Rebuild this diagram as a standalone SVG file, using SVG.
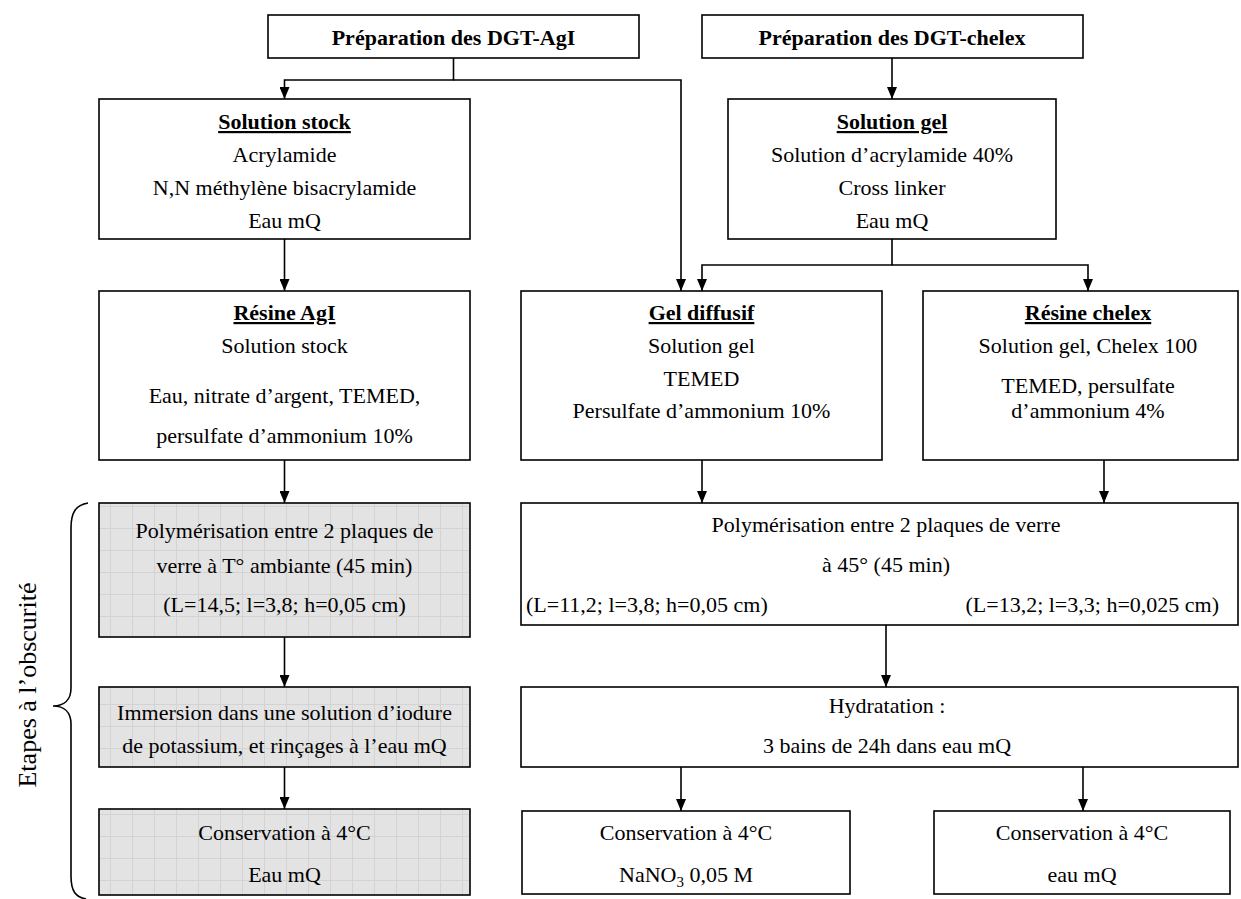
<svg xmlns="http://www.w3.org/2000/svg" width="1241" height="899" viewBox="0 0 1241 899">
<style>
.box{fill:#fff;stroke:#000;stroke-width:1.6}
.gray{fill:url(#grid);stroke:#000;stroke-width:1.6}
text{font-family:"Liberation Serif","Times New Roman",serif;font-size:22px;fill:#000;text-anchor:middle}
.b{font-weight:bold}
.u{font-weight:bold;text-decoration:underline}
.con{fill:none;stroke:#000;stroke-width:1.6}
</style>
<defs>
<pattern id="grid" width="22" height="22" patternUnits="userSpaceOnUse">
<rect width="22" height="22" fill="#e3e3e3"/>
<path d="M0,0.5 H22 M0.5,0 V22" stroke="#d3d3d3" stroke-width="1" fill="none"/>
</pattern>
<marker id="ah" viewBox="0 0 12 10" refX="12" refY="5" markerWidth="12" markerHeight="10" markerUnits="userSpaceOnUse" orient="auto">
<path d="M0,0 L12,5 L0,10 z" fill="#000"/>
</marker>
</defs>
<rect width="1241" height="899" fill="#fff"/>

<g id="connectors">
<path class="con" d="M453.5,58 V80 H284.5 V99" marker-end="url(#ah)"/>
<path class="con" d="M453.5,80 H681 V291" marker-end="url(#ah)"/>
<path class="con" d="M892,58 V99" marker-end="url(#ah)"/>
<path class="con" d="M892,239 V265 H702 V291" marker-end="url(#ah)"/>
<path class="con" d="M892,265 H1088 V291" marker-end="url(#ah)"/>
<path class="con" d="M284.5,239 V291" marker-end="url(#ah)"/>
<path class="con" d="M284.5,460 V503" marker-end="url(#ah)"/>
<path class="con" d="M702,460 V503" marker-end="url(#ah)"/>
<path class="con" d="M1104,460 V503" marker-end="url(#ah)"/>
<path class="con" d="M284.5,637 V687" marker-end="url(#ah)"/>
<path class="con" d="M886,625 V687" marker-end="url(#ah)"/>
<path class="con" d="M284.5,767 V809" marker-end="url(#ah)"/>
<path class="con" d="M681,767 V811" marker-end="url(#ah)"/>
<path class="con" d="M1083,767 V811" marker-end="url(#ah)"/>
</g>

<g id="prep-agi">
<rect class="box" x="268" y="15" width="371" height="43"/>
<text class="b" x="453.5" y="45">Préparation des DGT-AgI</text>
</g>
<g id="prep-chelex">
<rect class="box" x="702" y="15" width="381" height="43"/>
<text class="b" x="892" y="45">Préparation des DGT-chelex</text>
</g>

<g id="solution-stock">
<rect class="box" x="99" y="99" width="371" height="140"/>
<text class="u" x="284.5" y="129">Solution stock</text>
<text x="284.5" y="162">Acrylamide</text>
<text x="284.5" y="195">N,N méthylène bisacrylamide</text>
<text x="284.5" y="228">Eau mQ</text>
</g>
<g id="solution-gel">
<rect class="box" x="728" y="99" width="328" height="140"/>
<text class="u" x="892" y="129">Solution gel</text>
<text x="892" y="162">Solution d’acrylamide 40%</text>
<text x="892" y="195">Cross linker</text>
<text x="892" y="228">Eau mQ</text>
</g>

<g id="resine-agi">
<rect class="box" x="99" y="291" width="371" height="169"/>
<text class="u" x="284.5" y="320">Résine AgI</text>
<text x="284.5" y="353">Solution stock</text>
<text x="284.5" y="403">Eau, nitrate d’argent, TEMED,</text>
<text x="284.5" y="443">persulfate d’ammonium 10%</text>
</g>
<g id="gel-diffusif">
<rect class="box" x="521" y="291" width="361" height="169"/>
<text class="u" x="701.5" y="320">Gel diffusif</text>
<text x="701.5" y="353">Solution gel</text>
<text x="701.5" y="386">TEMED</text>
<text x="701.5" y="418">Persulfate d’ammonium 10%</text>
</g>
<g id="resine-chelex">
<rect class="box" x="923" y="291" width="315" height="169"/>
<text class="u" x="1088" y="320">Résine chelex</text>
<text x="1088" y="353">Solution gel, Chelex 100</text>
<text x="1088" y="393">TEMED, persulfate</text>
<text x="1088" y="418">d’ammonium 4%</text>
</g>

<g id="poly-agi">
<rect class="gray" x="99" y="503" width="371" height="134"/>
<text x="284.5" y="538">Polymérisation entre 2 plaques de</text>
<text x="284.5" y="573">verre à T° ambiante (45 min)</text>
<text x="284.5" y="612">(L=14,5; l=3,8; h=0,05 cm)</text>
</g>
<g id="poly-chelex">
<rect class="box" x="521" y="503" width="717" height="122"/>
<text x="886" y="532">Polymérisation entre 2 plaques de verre</text>
<text x="886" y="572">à 45° (45 min)</text>
<text x="526" y="612" style="text-anchor:start">(L=11,2; l=3,8; h=0,05 cm)</text>
<text x="1219" y="612" style="text-anchor:end">(L=13,2; l=3,3; h=0,025 cm)</text>
</g>

<g id="immersion">
<rect class="gray" x="99" y="687" width="371" height="80"/>
<text x="284.5" y="720">Immersion dans une solution d’iodure</text>
<text x="284.5" y="753">de potassium, et rinçages à l’eau mQ</text>
</g>
<g id="hydratation">
<rect class="box" x="521" y="687" width="717" height="80"/>
<text x="887" y="713">Hydratation :</text>
<text x="887" y="753">3 bains de 24h dans eau mQ</text>
</g>

<g id="conservation-agi">
<rect class="gray" x="99" y="809" width="371" height="86"/>
<text x="284.5" y="840">Conservation à 4°C</text>
<text x="284.5" y="882">Eau mQ</text>
</g>
<g id="conservation-diffusif">
<rect class="box" x="522" y="811" width="328" height="83"/>
<text x="686" y="840">Conservation à 4°C</text>
<text x="686" y="882">NaNO<tspan font-size="15" dy="5">3</tspan><tspan dy="-5"> 0,05 M</tspan></text>
</g>
<g id="conservation-chelex">
<rect class="box" x="934" y="811" width="296" height="83"/>
<text x="1082" y="840">Conservation à 4°C</text>
<text x="1082" y="882">eau mQ</text>
</g>

<g id="brace">
<path class="con" d="M88,503 C76,505 71,512 71,528 L71,688 C71,700 64,706 53,706 C64,706 71,712 71,724 L71,876 C71,892 76,897 86,899"/>
<text transform="translate(36,685) rotate(-90)" style="font-size:26px">Etapes à l’obscurité</text>
</g>
</svg>
